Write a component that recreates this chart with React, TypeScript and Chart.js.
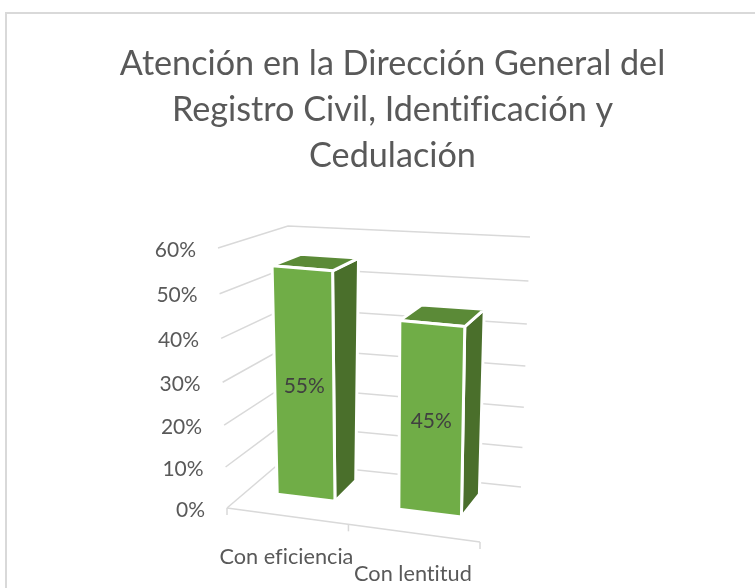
import { useEffect, useRef } from "react";
import { Chart, registerables } from "chart.js";

Chart.register(...registerables);

const categories = ["Con eficiencia", "Con lentitud"];
const attention = [0.55, 0.45];
const valueTicks = [0, 0.1, 0.2, 0.3, 0.4, 0.5, 0.6];
const titleLines = [
  "Atención en la Dirección General del",
  "Registro Civil, Identificación y",
  "Cedulación",
];

type P = [number, number];
// Projection of the plot box: front/back, bottom/top corners
const FBL: P = [227, 508], FBR: P = [480, 542], BBL: P = [281, 462], BBR: P = [521, 487];
const FTL: P = [218, 248], FTR: P = [488, 274], BTL: P = [288, 226], BTR: P = [530, 237];
const WF = 0.38, WB = 0.8;

const lerp = (a: P, b: P, t: number): P => [a[0] + (b[0] - a[0]) * t, a[1] + (b[1] - a[1]) * t];
const project = (u0: number, v0: number, w0: number): P => {
  const u = u0 - 0.08 * u0 * (1 - u0);
  const v = v0 - 0.065 * v0 * (1 - v0);
  const wt = w0 - 0.285 * v * w0 * (1 - w0);
  const bottom = lerp(lerp(FBL, FBR, u), lerp(BBL, BBR, u), w0);
  const top = lerp(lerp(FTL, FTR, u), lerp(BTL, BTR, u), wt);
  return lerp(bottom, top, v);
};

const pct = (v: number) => `${Math.round(v * 100)}%`;

const bars3d = {
  id: "bars3d",
  beforeDraw(chart: any) {
    const { ctx, width, height } = chart;
    ctx.textRendering = "optimizeSpeed";
    ctx.save();
    ctx.fillStyle = "#ffffff";
    ctx.fillRect(0, 0, width, height);
    ctx.strokeStyle = "#d9d9d9";
    ctx.lineWidth = 2;
    ctx.beginPath();
    ctx.moveTo(6, height);
    ctx.lineTo(6, 13);
    ctx.lineTo(width, 13);
    ctx.stroke();
    ctx.restore();
  },
  afterDatasetsDraw(chart: any) {
    const { ctx, chartArea: a, scales } = chart;
    const U = (px: number) => (px - a.left) / (a.right - a.left);
    const V = (px: number) => (a.bottom - px) / (a.bottom - a.top);
    const line = (p: P[]) => {
      ctx.beginPath();
      p.forEach((q, i) => (i ? ctx.lineTo(q[0], q[1]) : ctx.moveTo(q[0], q[1])));
    };
    const fillFace = (p: P[], color: string) => {
      line(p);
      ctx.closePath();
      ctx.fillStyle = color;
      ctx.fill();
      ctx.strokeStyle = "#ffffff";
      ctx.lineWidth = 3;
      ctx.lineJoin = "round";
      ctx.stroke();
    };
    ctx.save();
    // gridlines and floor
    ctx.strokeStyle = "#d9d9d9";
    ctx.lineWidth = 1.5;
    valueTicks.forEach((t) => {
      const v = V(scales.y.getPixelForValue(t));
      line([project(0, v, 0), project(0, v, 1), project(1, v, 1)]);
      ctx.stroke();
    });
    line([project(0, 0, 0), project(1, 0, 0)]);
    ctx.stroke();
    [0, 0.5, 1].forEach((u) => {
      const p = project(u, 0, 0);
      line([p, [p[0], p[1] + 7]]);
      ctx.stroke();
    });
    // value axis labels
    ctx.font = "21px Lato";
    ctx.fillStyle = "#595959";
    ctx.textAlign = "right";
    ctx.textBaseline = "middle";
    valueTicks.forEach((t) => {
      const p = project(0, V(scales.y.getPixelForValue(t)), 0);
      ctx.fillText(pct(t), p[0] - 22, p[1] + 2);
    });
    // category labels
    ctx.font = "21.7px Lato";
    ctx.textAlign = "center";
    categories.forEach((c, i) => {
      const p = project(U(scales.x.getPixelForValue(i)), 0, 0);
      ctx.fillText(c, p[0], p[1] + 41);
    });
    // bars
    const meta = chart.getDatasetMeta(0);
    meta.data.forEach((el: any, i: number) => {
      const { x, y, base, width: bw } = el.getProps(["x", "y", "base", "width"], true);
      const u0 = U(x - bw / 2), u1 = U(x + bw / 2);
      const v0 = V(base), v1 = V(y);
      fillFace([project(u1, v0, WF), project(u1, v0, WB), project(u1, v1, WB), project(u1, v1, WF)], "#4a6f2b");
      fillFace([project(u0, v1, WF), project(u1, v1, WF), project(u1, v1, WB), project(u0, v1, WB)], "#5b8a37");
      const front = [project(u0, v0, WF), project(u1, v0, WF), project(u1, v1, WF), project(u0, v1, WF)];
      fillFace(front, "#70ad47");
      const cx = front.reduce((s, q) => s + q[0], 0) / 4;
      const cy = front.reduce((s, q) => s + q[1], 0) / 4;
      ctx.fillStyle = "#404040";
      ctx.font = "21px Lato";
      ctx.textAlign = "center";
      ctx.textBaseline = "middle";
      ctx.fillText(pct(attention[i]), cx, cy + 3);
    });
    ctx.restore();
  },
};

export default function App() {
  const ref = useRef<HTMLCanvasElement>(null);
  useEffect(() => {
    const chart = new Chart(ref.current!, {
      type: "bar",
      data: {
        labels: categories,
        datasets: [
          {
            label: "Atención",
            data: attention,
            backgroundColor: "rgba(0,0,0,0)",
            borderWidth: 0,
            categoryPercentage: 1,
            barPercentage: 0.485,
          },
        ],
      },
      options: {
        responsive: false,
        animation: false,
        layout: { padding: { left: 30, top: 41 } },
        plugins: {
          legend: { display: false },
          tooltip: { enabled: false },
          title: {
            display: true,
            text: titleLines,
            color: "#595959",
            font: { family: "Lato", size: 34.2, weight: "400", lineHeight: 1.345 },
            padding: { top: 0, bottom: 30 },
          },
        },
        scales: {
          x: { display: false },
          y: { display: false, min: 0, max: 0.6, ticks: { stepSize: 0.1 } },
        },
      },
      plugins: [bars3d],
    });
    return () => chart.destroy();
  }, []);
  return (
    <div style={{ position: "fixed", left: 0, top: 0, width: 755, height: 588 }}>
      <canvas ref={ref} width={755} height={588} style={{ display: "block" }} />
    </div>
  );
}
